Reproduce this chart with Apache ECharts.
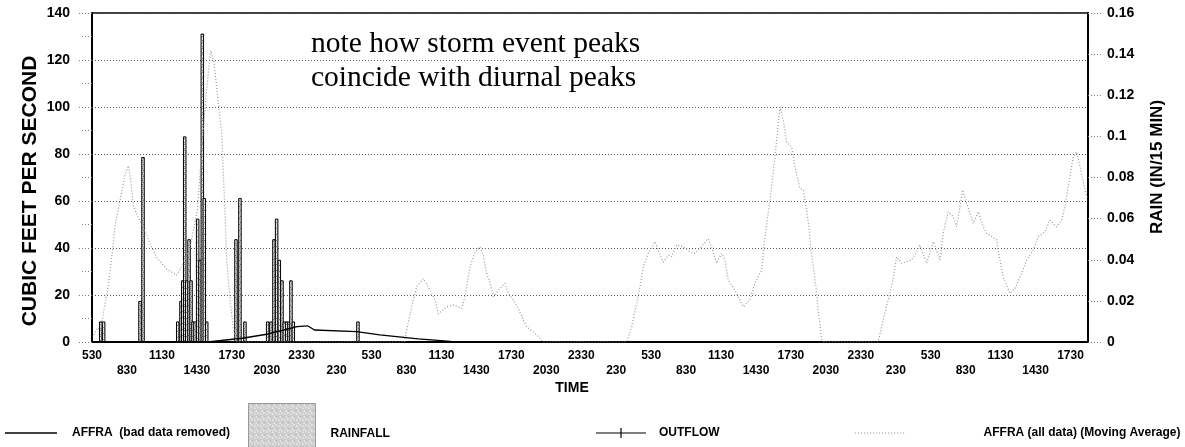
<!DOCTYPE html>
<html>
<head>
<meta charset="utf-8">
<script src="https://cdn.jsdelivr.net/npm/echarts@6/dist/echarts.min.js"></script>
<style>
html,body{margin:0;padding:0;background:#fff;}
#chart{width:1185px;height:447px;}
</style>
</head>
<body>
<div id="chart"></div>
<script>
// x values are hours elapsed since 05:30 on day 1
const timeLabels = ['530','830','1130','1430','1730','2030','2330',
  '230','530','830','1130','1430','1730','2030','2330',
  '230','530','830','1130','1430','1730','2030','2330',
  '230','530','830','1130','1430','1730'];

// Rainfall (in / 15 min)
const rainHours = [0.75, 1.0, 4.12, 4.38, 7.36, 7.64, 7.79, 7.96, 8.13, 8.33, 8.5, 8.67, 8.84, 9.07, 9.27, 9.47, 9.64, 9.85,
  12.36, 12.7, 13.13, 15.08, 15.36, 15.62, 15.85, 16.08, 16.31, 16.51, 16.71, 16.91, 17.08, 17.28, 22.83];
const rainInches = [0.01, 0.01, 0.02, 0.09, 0.01, 0.02, 0.03, 0.10, 0.03, 0.05, 0.03, 0.01, 0.01, 0.06, 0.04, 0.15, 0.07, 0.01,
  0.05, 0.07, 0.01, 0.01, 0.01, 0.05, 0.06, 0.04, 0.03, 0.01, 0.01, 0.01, 0.03, 0.01, 0.01];

// Outflow (cfs)
const outflowHours = [9.9, 12.9, 15.0, 17.6, 18.5, 19.1, 22.7, 24.7, 28.0, 30.8, 33.0];
const outflowCfs   = [0, 1.6, 3.3, 6.5, 6.9, 5.1, 4.4, 3.0, 1.3, 0.3, 0];

// AFFRA (bad data removed) - not visible in the plot
const affraCleanHours = [];
const affraCleanCfs = [];

// AFFRA (all data) moving average (cfs)
const avgHours = [0.15, 0.45, 0.75, 1.0, 1.4, 1.69, 1.97, 2.4, 2.83, 3.12, 3.32, 3.55, 3.97, 4.38, 4.98, 5.55, 6.41, 7.27, 7.7, 8.41, 9.04, 9.42, 9.85, 10.19, 10.47, 10.79, 11.13, 11.27, 11.42, 11.56, 11.85, 12.13, 12.4,
  26.8, 27.01, 27.44, 27.87, 28.44, 29.01, 29.44, 29.73, 30.45, 31.01, 31.73, 32.02, 32.45, 32.88, 33.3, 33.59, 33.88, 34.16, 34.45, 34.88, 35.45, 35.74, 36.16, 36.59, 37.02, 37.31, 38.17, 38.74,
  45.9, 46.33, 46.76, 47.04, 47.32, 47.75, 48.33, 48.76, 49.04, 49.47, 49.76, 50.19, 50.76, 51.33, 51.76, 52.19, 52.9, 53.33, 53.62, 54.05, 54.33, 54.62, 55.19, 55.91, 56.48, 56.91, 57.48, 57.77, 58.2, 58.63, 58.77, 59.06, 59.34, 59.63, 60.06, 60.34, 60.77, 61.06, 61.35, 61.57, 61.69, 61.92, 62.15, 62.34, 62.64, 62.9,
  67.49, 67.92, 68.35, 68.78, 69.07, 69.5, 70.36, 70.79, 71.07, 71.65, 72.21, 72.79, 73.07, 73.5, 73.93, 74.22, 74.51, 74.74, 75.08, 75.65, 76.08, 76.51, 76.8, 77.66, 77.8, 78.22, 78.8, 79.23, 79.8, 80.23, 80.8, 81.23, 81.8, 82.23, 82.8, 83.24, 83.52, 83.8, 84.23, 84.53, 84.88, 85.18, 85.47];
const avgCfs = [3, 6, 5, 13, 24, 36, 49, 60, 71, 75, 69, 58, 53, 49, 42, 36, 31, 28.5, 32, 40, 56, 82, 108, 124, 119, 104, 89, 72, 55, 35, 18, 6, 0,
  0, 5, 15, 23.5, 27, 22, 18, 12, 15, 15.7, 14.3, 19.3, 32, 38.4, 40.5, 37, 29, 25.7, 19.3, 22, 25, 20.7, 17.9, 14.3, 9.4, 6.5, 3, 0,
  0, 6.5, 16.5, 23.5, 32, 37.7, 42.7, 37, 34, 37, 36.3, 41.3, 40.5, 38.4, 37.7, 39.9, 44, 38.4, 33.5, 37.7, 35, 26.4, 22, 15, 17.9, 25, 30.6, 44.8, 60.4, 78.8, 86, 100, 94.5, 85, 83, 74.6, 65.4, 64.7, 56, 47.7, 39.9, 32, 23.5, 13.6, 1, 0,
  0, 9.4, 17.9, 27, 36.3, 33.5, 34.9, 38.4, 41.3, 33.5, 42.7, 34.9, 46.3, 55.4, 53.3, 49, 57.6, 64.7, 59, 50.5, 55.4, 49, 46.3, 43.4, 38.4, 27.8, 20.7, 22.8, 29.2, 34.9, 39.1, 44.8, 46.9, 51.9, 49, 51.9, 57.6, 66, 78.8, 81, 73.2, 66, 60.4];

const pair = (xs, ys) => xs.map((x, i) => [x, ys[i]]);

// stipple pattern for rainfall fill
const stipple = document.createElement('canvas');
stipple.width = 6; stipple.height = 6;
(function(){
  const c = stipple.getContext('2d');
  c.fillStyle = '#e4e4e4'; c.fillRect(0,0,6,6);
  c.fillStyle = '#8a8a8a';
  [[0,0],[3,1],[1,3],[4,4],[2,5],[5,2],[4,0]].forEach(p => c.fillRect(p[0], p[1], 1, 1));
})();
const stippleFill = { image: stipple, repeat: 'repeat' };

// legend icon shapes
let dotPath = 'path://';
for (let i = 0; i < 17; i++) dotPath += 'M' + (i * 3) + ',0h1.2v1.2h-1.2Z';
const solidPath = 'path://M0,0H52V1.3H0Z';
const plusLinePath = 'path://M0,5.5H50V6.5H0Z M24.4,1H25.6V11H24.4Z';

const FONT = 'Liberation Sans, Arial, sans-serif';
const chart = echarts.init(document.getElementById('chart'), null, { renderer: 'canvas' });

const legendText = { fontFamily: FONT, fontWeight: 'bold', fontSize: 12, color: '#000' };

chart.setOption({
  animation: false,
  backgroundColor: '#fff',
  grid: { left: 92, right: 97, top: 13, bottom: 105, show: true, borderColor: '#000', borderWidth: 1.5, backgroundColor: 'transparent' },
  xAxis: {
    type: 'value', min: 0, max: 85.5, interval: 3,
    axisLine: { show: true, onZero: false, lineStyle: { color: '#000', width: 2 } },
    axisTick: { show: false },
    splitLine: { show: false },
    axisLabel: {
      showMaxLabel: false,
      margin: 6,
      fontFamily: FONT, fontWeight: 'bold', fontSize: 12, color: '#000', lineHeight: 15,
      formatter: function (v) {
        const i = Math.round(v / 3);
        if (Math.abs(v - i * 3) > 1e-6 || i >= timeLabels.length) return '';
        return i % 2 === 0 ? timeLabels[i] : '\n' + timeLabels[i];
      }
    }
  },
  yAxis: [
    {
      type: 'value', min: 0, max: 140, interval: 20, position: 'left',
      axisLine: { show: true, lineStyle: { color: '#000', width: 2 } },
      axisTick: { show: true, length: 13, lineStyle: { color: '#777', type: [1, 2] } },
      minorTick: { show: true, splitNumber: 2, length: 10, lineStyle: { color: '#888', type: [1, 2] } },
      splitLine: { show: true, lineStyle: { color: '#555', width: 1, type: [1, 2] } },
      axisLabel: { margin: 22, fontFamily: FONT, fontWeight: 'bold', fontSize: 14, color: '#000' }
    },
    {
      type: 'value', min: 0, max: 0.16, interval: 0.02, position: 'right',
      axisLine: { show: true, lineStyle: { color: '#000', width: 2 } },
      axisTick: { show: true, length: 15, lineStyle: { color: '#777', type: [1, 2] } },
      splitLine: { show: false },
      axisLabel: { margin: 19, fontFamily: FONT, fontWeight: 'bold', fontSize: 14, color: '#000',
        formatter: v => String(parseFloat(v.toFixed(2))) }
    }
  ],
  legend: [
    { left: 5, top: 427, padding: 0, itemWidth: 52, itemHeight: 1.3,
      data: [{ name: 'AFFRA  (bad data removed)', icon: solidPath }],
      textStyle: Object.assign({ padding: [0, 0, 0, 10] }, legendText) },
    { left: 248, top: 403, padding: 0, itemWidth: 67, itemHeight: 60, data: [{ name: 'RAINFALL', icon: 'rect' }],
      itemStyle: { borderColor: '#999', borderWidth: 1 },
      textStyle: Object.assign({ padding: [0, 0, 0, 10] }, legendText) },
    { left: 596, top: 427, padding: 0, itemWidth: 50, itemHeight: 12,
      data: [{ name: 'OUTFLOW', icon: plusLinePath }],
      textStyle: Object.assign({ padding: [0, 0, 0, 8] }, legendText) },
    { left: 855, top: 427, padding: 0, itemWidth: 50, itemHeight: 1.2,
      data: [{ name: 'AFFRA (all data) (Moving Average)', icon: dotPath }],
      textStyle: Object.assign({ padding: [0, 0, 0, 74] }, legendText) }
  ],
  graphic: [
    { type: 'text', x: 30, y: 191, rotation: Math.PI / 2,
      style: { text: 'CUBIC FEET PER SECOND', font: 'bold 21px ' + FONT, fill: '#000', textAlign: 'center', textVerticalAlign: 'middle' } },
    { type: 'text', x: 1157, y: 167, rotation: Math.PI / 2,
      style: { text: 'RAIN (IN/15 MIN)', font: 'bold 17px ' + FONT, fill: '#000', textAlign: 'center', textVerticalAlign: 'middle' } },
    { type: 'text', x: 572, y: 388,
      style: { text: 'TIME', font: 'bold 14px ' + FONT, fill: '#000', textAlign: 'center', textVerticalAlign: 'middle' } },
    { type: 'text', x: 311, y: 44,
      style: { text: 'note how storm event peaks', font: '29.5px "Liberation Serif", "Times New Roman", serif', fill: '#000', textAlign: 'left', textVerticalAlign: 'middle' } },
    { type: 'text', x: 311, y: 78,
      style: { text: 'coincide with diurnal peaks', font: '29.5px "Liberation Serif", "Times New Roman", serif', fill: '#000', textAlign: 'left', textVerticalAlign: 'middle' } }
  ],
  series: [
    { name: 'AFFRA  (bad data removed)', type: 'line', data: pair(affraCleanHours, affraCleanCfs), symbol: 'none',
      itemStyle: { color: '#000' }, lineStyle: { color: '#000', width: 1.2 } },
    { name: 'RAINFALL', type: 'bar', yAxisIndex: 1, data: pair(rainHours, rainInches), barWidth: 3.5,
      itemStyle: { color: stippleFill, borderColor: '#000', borderWidth: 1 } },
    { name: 'OUTFLOW', type: 'line', data: pair(outflowHours, outflowCfs), symbol: 'none',
      itemStyle: { color: '#000' }, lineStyle: { color: '#000', width: 1.3 } },
    { name: 'AFFRA (all data) (Moving Average)', type: 'line', data: pair(avgHours, avgCfs), symbol: 'none',
      itemStyle: { color: '#999' }, lineStyle: { color: '#999', width: 1.2, type: [1, 2] }, z: 3 }
  ]
});
</script>
</body>
</html>
